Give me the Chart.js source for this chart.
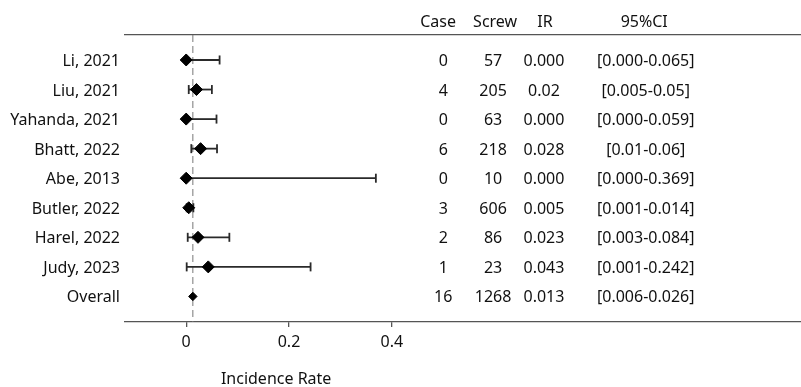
<!DOCTYPE html>
<html>
<head>
<meta charset="utf-8">
<script src="https://cdn.jsdelivr.net/npm/chart.js@4/dist/chart.umd.min.js"></script>
<style>
    html, body { margin: 0; padding: 0; background: #fff; }
    #wrap { width: 801px; height: 387px; }
</style>
</head>
<body>
<div id="wrap"><canvas id="forest"></canvas></div>
<script>
// rows, top to bottom; the last one is the pooled estimate
var STUDIES = ['Li, 2021', 'Liu, 2021', 'Yahanda, 2021', 'Bhatt, 2022', 'Abe, 2013',
    'Butler, 2022', 'Harel, 2022', 'Judy, 2023', 'Overall'];
var CASES = [0, 4, 0, 6, 0, 3, 2, 1, 16];
var SCREWS = [57, 205, 63, 218, 10, 606, 86, 23, 1268];
var IR = [0.000, 0.02, 0.000, 0.028, 0.000, 0.005, 0.023, 0.043, 0.013];
var IR_LABELS = ['0.000', '0.02', '0.000', '0.028', '0.000', '0.005', '0.023', '0.043', '0.013'];
var CI_LOW = [0.000, 0.005, 0.000, 0.01, 0.000, 0.001, 0.003, 0.001, 0.006];
var CI_HIGH = [0.065, 0.05, 0.059, 0.06, 0.369, 0.014, 0.084, 0.242, 0.026];
var CI_LABELS = ['[0.000-0.065]', '[0.005-0.05]', '[0.000-0.059]', '[0.01-0.06]', '[0.000-0.369]',
    '[0.001-0.014]', '[0.003-0.084]', '[0.001-0.242]', '[0.006-0.026]'];
var HEADERS = ['Case', 'Screw', 'IR', '95%CI'];
var X_TICKS = [0, 0.2, 0.4];
var X_TICK_LABELS = ['0', '0.2', '0.4'];
var AXIS_TITLE = 'Incidence Rate';

var TEXT = '#111';
var LINE = '#555';
var BAR = '#2a2a2a';
var FONT = '"Noto Sans", "Open Sans", sans-serif';
var TEXT_SHIFT = 1.5;

// x range is wide so the table sits in the right part of the plot
var X_MIN = -0.119, X_MAX = 1.196;
var Y_MIN = 0.155, Y_MAX = 9.865;
var VALUE_COLS = [0.5, 0.597, 0.696, 0.894];
var HEADER_COLS = [0.49, 0.601, 0.698, 0.891];
var HEADER_ROW = -0.33;
var TITLE_X = 0.175, TITLE_ROW = 11.75;

var pooled = STUDIES.length - 1;

function rowOf(i) {
    return i + 1;
}

/**
 * Draws the table columns, the header and the axis title.
 */
var tablePlugin = {
    id: 'forestTable',
    afterDatasetsDraw: function (chart) {
        var ctx = chart.ctx;
        var xs = chart.scales.x;
        var ys = chart.scales.y;
        ctx.save();
        ctx.fillStyle = TEXT;
        ctx.font = '16px ' + FONT;
        ctx.textAlign = 'center';
        ctx.textBaseline = 'middle';
        for (var c = 0; c < HEADERS.length; c++) {
            ctx.fillText(HEADERS[c], xs.getPixelForValue(HEADER_COLS[c]), ys.getPixelForValue(HEADER_ROW) + TEXT_SHIFT);
        }
        for (var i = 0; i < STUDIES.length; i++) {
            var py = ys.getPixelForValue(rowOf(i)) + TEXT_SHIFT;
            var cells = [String(CASES[i]), String(SCREWS[i]), IR_LABELS[i], CI_LABELS[i]];
            for (var k = 0; k < cells.length; k++) {
                ctx.fillText(cells[k], xs.getPixelForValue(VALUE_COLS[k]), py);
            }
        }
        ctx.fillText(AXIS_TITLE, xs.getPixelForValue(TITLE_X), ys.getPixelForValue(TITLE_ROW) + TEXT_SHIFT);
        ctx.restore();
    }
};

function buildDatasets() {
    var sets = [];
    sets.push({
        type: 'scatter',
        data: IR.map(function (v, i) { return {x: v, y: rowOf(i)}; }),
        pointStyle: 'rectRot',
        pointRadius: IR.map(function (v, i) { return i === pooled ? 4.2 : 6; }),
        backgroundColor: '#000',
        borderColor: '#000',
        borderWidth: 1,
        order: 0
    });
    for (var i = 0; i < pooled; i++) {
        sets.push({
            type: 'line',
            data: [{x: CI_LOW[i], y: rowOf(i)}, {x: CI_HIGH[i], y: rowOf(i)}],
            borderColor: BAR,
            borderWidth: 1.8,
            pointStyle: 'line',
            rotation: 90,
            pointRadius: 4.5,
            pointBorderColor: BAR,
            pointBorderWidth: 1.8,
            order: 1
        });
    }
    sets.push({
        type: 'line',
        data: [{x: IR[pooled], y: Y_MIN}, {x: IR[pooled], y: Y_MAX}],
        borderColor: '#777',
        borderWidth: 1,
        borderDash: [7, 4],
        pointRadius: 0,
        order: 2
    });
    sets.forEach(function (s) { s.xAxisID = 'x'; s.yAxisID = 'y'; });
    return sets;
}

function fitHorizontal(h) {
    return function (s) {
        s.height = h;
        s.paddingLeft = 0;
        s.paddingRight = 0;
    };
}

new Chart(document.getElementById('forest'), {
    type: 'scatter',
    data: {datasets: buildDatasets()},
    options: {
        responsive: true,
        maintainAspectRatio: false,
        animation: false,
        // no room kept for marker overflow: the rules run to the right edge
        layout: {padding: 0, autoPadding: false},
        plugins: {
            legend: {display: false},
            tooltip: {enabled: false}
        },
        scales: {
            x: {
                type: 'linear',
                position: 'bottom',
                min: X_MIN,
                max: X_MAX,
                afterBuildTicks: function (s) {
                    s.ticks = X_TICKS.map(function (v) { return {value: v}; });
                },
                afterFit: fitHorizontal(65),
                ticks: {
                    callback: function (v, idx) { return X_TICK_LABELS[idx]; },
                    font: {family: FONT, size: 16},
                    color: TEXT,
                    padding: 6,
                    maxRotation: 0
                },
                grid: {drawOnChartArea: false, drawTicks: true, tickLength: 5, color: LINE, lineWidth: 1.3},
                border: {display: true, color: LINE, width: 1.3}
            },
            xTop: {
                type: 'linear',
                position: 'top',
                min: X_MIN,
                max: X_MAX,
                afterFit: fitHorizontal(35),
                ticks: {display: false},
                grid: {display: false},
                border: {display: true, color: LINE, width: 1.3}
            },
            y: {
                type: 'linear',
                reverse: true,
                min: Y_MIN,
                max: Y_MAX,
                afterBuildTicks: function (s) {
                    s.ticks = STUDIES.map(function (n, i) { return {value: rowOf(i)}; });
                },
                afterFit: function (s) { s.width = 125; },
                ticks: {
                    callback: function (v, idx) { return STUDIES[idx]; },
                    font: {family: FONT, size: 16},
                    color: TEXT,
                    padding: 5,
                    labelOffset: TEXT_SHIFT
                },
                grid: {display: false, drawTicks: false},
                border: {display: false}
            }
        }
    },
    plugins: [tablePlugin]
});
</script>
</body>
</html>
